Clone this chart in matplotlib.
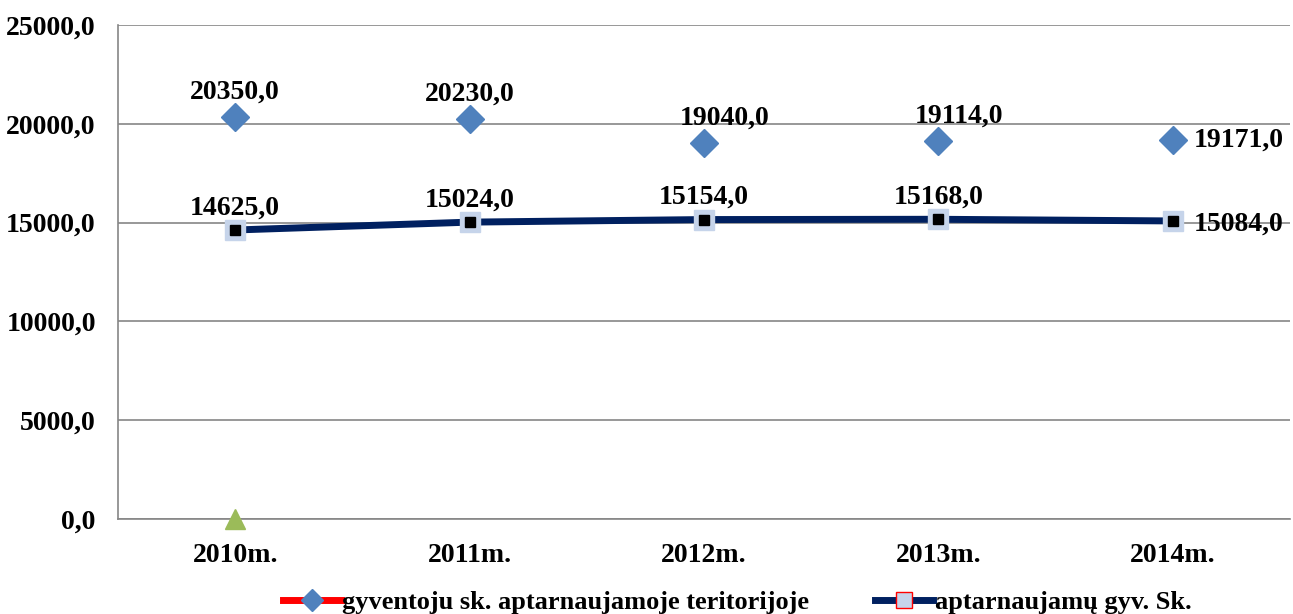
import matplotlib
matplotlib.use('Agg')
import matplotlib.pyplot as plt
from matplotlib.lines import Line2D

years = ['2010m.', '2011m.', '2012m.', '2013m.', '2014m.']
gyventoju = [20350.0, 20230.0, 19040.0, 19114.0, 19171.0]
aptarnaujamu = [14625.0, 15024.0, 15154.0, 15168.0, 15084.0]
third = [0.0]
yticks = [0, 5000, 10000, 15000, 20000, 25000]

plt.rcParams['font.family'] = ['Liberation Serif', 'DejaVu Serif']
plt.rcParams['font.weight'] = 'bold'

fig = plt.figure(figsize=(12.93, 6.14), dpi=100)
ax = fig.add_axes([118 / 1293, 1 - 519 / 614, 1172 / 1293, 494 / 614])

x = list(range(len(years)))

# series 1: diamonds only
ax.plot(x, gyventoju, linestyle='none', marker='D', markersize=14,
        markerfacecolor='#4f81bd', markeredgecolor='#4f81bd', zorder=4)
# series 2: thick navy line with square markers
ax.plot(x, aptarnaujamu, color='#002060', linewidth=5, marker='s', markersize=15,
        markerfacecolor='#c6d4ea', markeredgecolor='#c6d4ea', zorder=4)
ax.plot(x, aptarnaujamu, linestyle='none', marker='s', markersize=6.5,
        markerfacecolor='black', markeredgecolor='black', zorder=5)
# third series point
ax.plot([0], third, linestyle='none', marker='^', markersize=15,
        markerfacecolor='#9bbb59', markeredgecolor='#9bbb59', zorder=4, clip_on=False)

fs = 20
for i, v in enumerate(gyventoju):
    lbl = f'{v:.1f}'.replace('.', ',')
    if i == len(years) - 1:
        ax.annotate(lbl, (i, v), xytext=(15, 0), textcoords='offset points',
                    ha='left', va='center', fontsize=fs, fontweight='bold')
    else:
        ax.annotate(lbl, (i, v), xytext=(15 if i >= 2 else 0, 9), textcoords='offset points',
                    ha='center', va='bottom', fontsize=fs, fontweight='bold')
for i, v in enumerate(aptarnaujamu):
    lbl = f'{v:.1f}'.replace('.', ',')
    if i == len(years) - 1:
        ax.annotate(lbl, (i, v), xytext=(15, -2), textcoords='offset points',
                    ha='left', va='center', fontsize=fs, fontweight='bold')
    else:
        ax.annotate(lbl, (i, v), xytext=(0, 7), textcoords='offset points',
                    ha='center', va='bottom', fontsize=fs, fontweight='bold')

ax.set_xlim(-0.5, len(years) - 0.5)
ax.set_ylim(0, 25000)
ax.set_yticks(yticks)
ax.set_yticklabels([f'{t:.1f}'.replace('.', ',') for t in yticks], fontsize=fs, fontweight='bold')
ax.set_xticks(x)
ax.set_xticklabels(years, fontsize=fs, fontweight='bold')
ax.tick_params(axis='y', length=0, pad=16)
ax.tick_params(axis='x', length=0, pad=17)
ax.grid(axis='y', color='#868686', linewidth=1.2)
ax.set_axisbelow(True)
for s in ['top', 'right']:
    ax.spines[s].set_visible(False)
for s in ['left', 'bottom']:
    ax.spines[s].set_color('#868686')
    ax.spines[s].set_linewidth(1.2)

handles = [
    Line2D([], [], color='red', linewidth=5, marker='D', markersize=11,
           markerfacecolor='#4f81bd', markeredgecolor='#4f81bd'),
    Line2D([], [], color='#002060', linewidth=5, marker='s', markersize=12,
           markerfacecolor='#c6d4ea', markeredgecolor='red'),
]
fig.legend(handles, ['gyventoju sk. aptarnaujamoje teritorijoje', 'aptarnaujamų gyv. Sk.'],
           loc='center', bbox_to_anchor=(0.57, 1 - 602 / 614), ncol=2, frameon=False,
           prop={'size': 19, 'weight': 'bold'}, handlelength=2.2, handletextpad=0.05,
           columnspacing=2.5, borderpad=0)

fig.savefig('out.png', dpi=100)
